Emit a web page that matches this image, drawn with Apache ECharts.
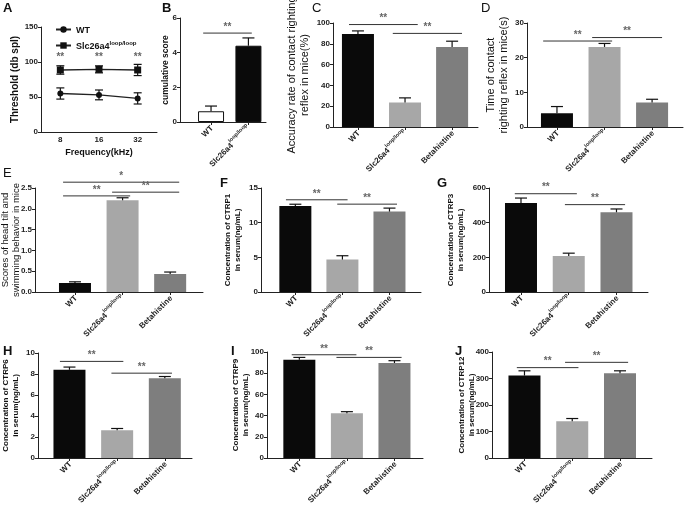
<!DOCTYPE html>
<html><head><meta charset="utf-8">
<script src="https://cdn.jsdelivr.net/npm/echarts@6/dist/echarts.min.js"></script>
<style>html,body{margin:0;padding:0;background:#fff}#c{width:685px;height:507px}</style>
</head><body><div id="c"></div>
<script>
// ---------- data ----------
const groups = ['WT', 'Slc26a4', 'Betahistine'];
const freqs = ['8', '16', '32'];
const A_wt = [55, 53, 48];
const A_wt_err = [8, 7, 8];
const A_slc = [88.6, 89.5, 88.6];
const A_slc_err = [6, 5, 8];
const A_sigY = [107, 107, 107];
const B_mean = [0.62, 4.4];
const B_err = [0.3, 0.45];
const C_mean = [89.5, 23.6, 77];
const C_err = [2.9, 4.4, 5.5];
const D_mean = [4.0, 23.1, 7.1];
const D_err = [1.9, 1.0, 0.9];
const E_mean = [0.215, 2.205, 0.43];
const E_err = [0.03, 0.06, 0.05];
const F_mean = [12.42, 4.68, 11.6];
const F_err = [0.24, 0.55, 0.5];
const G_mean = [514, 207, 460];
const G_err = [28, 17, 19];
const H_mean = [8.4, 2.65, 7.6];
const H_err = [0.26, 0.16, 0.16];
const I_mean = [92.7, 42.1, 89.6];
const I_err = [2.2, 1.6, 2.2];
const J_mean = [311, 139, 320];
const J_err = [18, 10, 9];
// significance brackets: [from, to, level], label
const B_sig = [[-0.21, 1.09, 5.13]]; const B_sigT = ['**'];
const C_sig = [[-0.19, 1.27, 98.5], [0.74, 2.21, 90]]; const C_sigT = ['**', '**'];
const D_sig = [[-0.29, 1.16, 24.8], [0.74, 2.21, 25.8]]; const D_sigT = ['**', '**'];
const E_sig = [[-0.25, 2.19, 2.64], [-0.25, 1.16, 2.31], [0.78, 2.19, 2.40]]; const E_sigT = ['*', '**', '**'];
const F_sig = [[-0.2, 1.11, 13.3], [0.89, 2.16, 12.67]]; const F_sigT = ['**', '**'];
const G_sig = [[-0.13, 1.17, 567], [0.92, 2.18, 504]]; const G_sigT = ['**', '**'];
const H_sig = [[-0.2, 1.13, 9.2], [0.88, 2.15, 8.08]]; const H_sigT = ['**', '**'];
const I_sig = [[-0.16, 1.2, 97.4], [0.78, 2.15, 94.9]]; const I_sigT = ['**', '**'];
const J_sig = [[-0.16, 1.13, 341], [0.85, 2.17, 361]]; const J_sigT = ['**', '**'];

// ---------- helpers ----------
const FF = 'Liberation Sans, Arial, sans-serif';
const BLACK = '#0a0a0a', LGREY = '#a7a7a7', DGREY = '#7e7e7e';
const chart = echarts.init(document.getElementById('c'));
const grids = [], xAxes = [], yAxes = [], series = [], titles = [];

function yAxisCfg(gi, max, interval, name, nameStyle, gap, fmt) {
  return {
    type: 'value', gridIndex: gi, min: 0, max: max, interval: interval,
    name: name, nameLocation: 'middle', nameRotate: 90, nameGap: gap, nameMoveOverlap: false,
    nameTextStyle: Object.assign({ fontFamily: FF, color: '#111', align: 'center' }, nameStyle),
    axisLine: { show: true, onZero: false, lineStyle: { color: '#222', width: 1 } },
    axisTick: { show: true, length: 3, lineStyle: { color: '#222' } },
    axisLabel: { fontFamily: FF, fontSize: 8, fontWeight: 'bold', color: '#222', margin: 3, formatter: fmt },
    splitLine: { show: false }
  };
}
function xBarAxis(gi, min, max, n) {
  const vals = []; for (let k = 0; k < n; k++) vals.push(k);
  return {
    type: 'value', gridIndex: gi, min: min, max: max,
    axisLine: { show: true, onZero: false, lineStyle: { color: '#222', width: 1 } },
    axisTick: { show: true, length: 3, customValues: vals, lineStyle: { color: '#222' } },
    axisLabel: {
      customValues: vals, rotate: 45, margin: 4, color: '#222',
      formatter: v => v === 1 ? '{b|Slc26a4}{s|loop/loop}' : '{b|' + groups[v] + '}',
      rich: {
        b: { fontFamily: FF, fontSize: 8, fontWeight: 'bold', color: '#222', lineHeight: 11, verticalAlign: 'bottom' },
        s: { fontFamily: FF, fontSize: 5.5, fontWeight: 'bold', color: '#222', lineHeight: 11, verticalAlign: 'top' }
      }
    },
    splitLine: { show: false }
  };
}
function errSeries(gi, xs, means, errs, both, cap) {
  return {
    type: 'custom', xAxisIndex: gi, yAxisIndex: gi, silent: true, z: 5,
    data: means.map((m, k) => [xs[k], m, errs[k]]),
    renderItem: (p, api) => {
      const x = api.value(0), m = api.value(1), e = api.value(2);
      const p0 = api.coord([x, both ? m - e : m]);
      const p1 = api.coord([x, m + e]);
      const ch = [
        { type: 'line', shape: { x1: p0[0], y1: p0[1], x2: p1[0], y2: p1[1] }, style: { stroke: '#111', lineWidth: 1.2 } },
        { type: 'line', shape: { x1: p1[0] - cap, y1: p1[1], x2: p1[0] + cap, y2: p1[1] }, style: { stroke: '#111', lineWidth: 1.2 } }
      ];
      if (both) ch.push({ type: 'line', shape: { x1: p0[0] - cap, y1: p0[1], x2: p0[0] + cap, y2: p0[1] }, style: { stroke: '#111', lineWidth: 1.2 } });
      return { type: 'group', children: ch };
    }
  };
}
function sigSeries(gi, list, texts) {
  return {
    type: 'custom', xAxisIndex: gi, yAxisIndex: gi, silent: true, z: 6, clip: false,
    data: list,
    renderItem: (p, api) => {
      const a = api.coord([api.value(0), api.value(2)]);
      const b = api.coord([api.value(1), api.value(2)]);
      return {
        type: 'group', children: [
          { type: 'line', shape: { x1: a[0], y1: a[1], x2: b[0], y2: b[1] }, style: { stroke: '#333', lineWidth: 1 } },
          { type: 'text', x: (a[0] + b[0]) / 2, y: a[1] - 1,
            style: { text: texts[p.dataIndex], textAlign: 'center', textVerticalAlign: 'bottom', fill: '#666', font: 'bold 10px ' + FF } }
        ]
      };
    }
  };
}
function barSeries(gi, means, colors, width, borders) {
  return {
    type: 'bar', xAxisIndex: gi, yAxisIndex: gi, barWidth: width, silent: true, z: 3,
    data: means.map((m, k) => ({
      value: [k, m],
      itemStyle: { color: colors[k], borderColor: borders ? borders[k] : colors[k], borderWidth: borders ? 1 : 0 }
    }))
  };
}
function addBarPanel(g, box, xr, ymax, yint, name, nameStyle, gap, means, errs, sig, sigT, fmt) {
  grids.push(Object.assign({ containLabel: false, outerBoundsMode: 'none' }, box));
  xAxes.push(xBarAxis(g, xr[0], xr[1], means.length));
  yAxes.push(yAxisCfg(g, ymax, yint, name, nameStyle, gap, fmt));
  series.push(barSeries(g, means, [BLACK, LGREY, DGREY], 32));
  series.push(errSeries(g, means.map((m, k) => k), means, errs, false, 6));
  series.push(sigSeries(g, sig, sigT));
}
function title(t, x, y, bold) {
  titles.push({ text: t, left: x, top: y, padding: 0,
    textStyle: { fontFamily: FF, fontSize: 13, fontWeight: bold ? 'bold' : 'normal', color: '#111' } });
}

// ---------- Panel A ----------
grids.push({ left: 41, top: 27, width: 116, height: 105, containLabel: false, outerBoundsMode: 'none' });
xAxes.push({
  type: 'category', gridIndex: 0, data: freqs, boundaryGap: true,
  name: 'Frequency(kHz)', nameLocation: 'middle', nameGap: 16, nameMoveOverlap: false,
  nameTextStyle: { fontFamily: FF, fontSize: 9, fontWeight: 'bold', color: '#111' },
  axisLine: { onZero: false, lineStyle: { color: '#222' } },
  axisTick: { alignWithLabel: true, length: 3, lineStyle: { color: '#222' } },
  axisLabel: { fontFamily: FF, fontSize: 8, fontWeight: 'bold', color: '#222', margin: 4 }
});
yAxes.push(yAxisCfg(0, 150, 50, 'Threshold (db spl)', { fontSize: 10, fontWeight: 'bold' }, 21));
series.push({
  name: 'WT', type: 'line', xAxisIndex: 0, yAxisIndex: 0, data: A_wt, symbol: 'circle', symbolSize: 6,
  lineStyle: { color: '#222', width: 1.3 }, itemStyle: { color: '#111' }, z: 4
});
series.push({
  name: 'Slc26a4', type: 'line', xAxisIndex: 0, yAxisIndex: 0, data: A_slc, symbol: 'rect', symbolSize: 7,
  lineStyle: { color: '#222', width: 1.3 }, itemStyle: { color: '#111' }, z: 4
});
series.push(errSeries(0, [0, 1, 2], A_wt, A_wt_err, true, 4));
series.push(errSeries(0, [0, 1, 2], A_slc, A_slc_err, true, 4));
series.push({
  type: 'custom', xAxisIndex: 0, yAxisIndex: 0, silent: true, data: A_sigY.map((v, k) => [k, v]),
  renderItem: (p, api) => {
    const c = api.coord([api.value(0), api.value(1)]);
    return { type: 'text', x: c[0], y: c[1], style: { text: '**', textAlign: 'center', textVerticalAlign: 'middle', fill: '#666', font: 'bold 10px ' + FF } };
  }
});

// ---------- Panel B ----------
grids.push({ left: 180, top: 18, width: 86, height: 104, containLabel: false, outerBoundsMode: 'none' });
xAxes.push(xBarAxis(1, -0.83, 1.47, 2));
yAxes.push(yAxisCfg(1, 6, 2, 'cumulative score', { fontSize: 8.5, fontWeight: 'bold' }, 10));
series.push(barSeries(1, B_mean, ['#ffffff', BLACK], 26, ['#111', '#111']));
series.push(errSeries(1, [0, 1], B_mean, B_err, false, 6));
series.push(sigSeries(1, B_sig, B_sigT));

// ---------- Panels C - J ----------
const reg = { fontSize: 11, fontWeight: 'normal', lineHeight: 13 };
const regE = { fontSize: 9.5, fontWeight: 'normal', lineHeight: 11 };
const bld = { fontSize: 8, fontWeight: 'bold', lineHeight: 10 };
addBarPanel(2, { left: 333, top: 23, width: 145, height: 104 }, [-0.53, 2.55], 100, 20,
  'Accuracy rate of contact righting\nreflex in mice(%)', reg, 22, C_mean, C_err, C_sig, C_sigT);
addBarPanel(3, { left: 527, top: 23, width: 156, height: 104 }, [-0.63, 2.65], 30, 10,
  'Time of contact\nrighting reflex in mice(s)', reg, 17, D_mean, D_err, D_sig, D_sigT);
addBarPanel(4, { left: 35, top: 188, width: 168, height: 104 }, [-0.84, 2.69], 2.5, 0.5,
  'Scores of head tilt and\nswimming behavior in mice', regE, 13, E_mean, E_err, E_sig, E_sigT, v => v.toFixed(1));
addBarPanel(5, { left: 261, top: 188, width: 160, height: 104 }, [-0.73, 2.67], 15, 5,
  'Concentration of CTRP1\nin serum(ng/mL)', bld, 18, F_mean, F_err, F_sig, F_sigT);
addBarPanel(6, { left: 489, top: 188, width: 159, height: 104 }, [-0.67, 2.66], 600, 200,
  'Concentration of CTRP3\nin serum(ng/mL)', bld, 23, G_mean, G_err, G_sig, G_sigT);
addBarPanel(7, { left: 38, top: 353, width: 154, height: 105 }, [-0.66, 2.57], 10, 2,
  'Concentration of CTRP6\nin serum(ng/mL)', bld, 17, H_mean, H_err, H_sig, H_sigT);
addBarPanel(8, { left: 267, top: 352, width: 156, height: 106 }, [-0.68, 2.6], 100, 20,
  'Concentration of CTRP9\nin serum(ng/mL)', bld, 16, I_mean, I_err, I_sig, I_sigT);
addBarPanel(9, { left: 492, top: 352, width: 160, height: 106 }, [-0.68, 2.67], 400, 100,
  'Concentration of CTRP12\nin serum(ng/mL)', bld, 15, J_mean, J_err, J_sig, J_sigT);

// ---------- panel letters ----------
title('A', 3, 2, true); title('B', 162, 2, true); title('C', 312, 2, false); title('D', 481, 2, false);
title('E', 3, 167, false); title('F', 220, 177, true); title('G', 437, 177, true);
title('H', 3, 345, true); title('I', 231, 345, true); title('J', 455, 345, true);

chart.setOption({
  animation: false,
  backgroundColor: '#fff',
  title: titles,
  legend: {
    orient: 'vertical', left: 50, top: 21, itemGap: 5, itemWidth: 15, itemHeight: 8,
    data: ['WT', 'Slc26a4'],
    formatter: n => n === 'Slc26a4' ? '{b|Slc26a4}{s|loop/loop}' : '{b|WT}',
    textStyle: {
      rich: {
        b: { fontFamily: FF, fontSize: 9, fontWeight: 'bold', color: '#111', lineHeight: 11, verticalAlign: 'bottom' },
        s: { fontFamily: FF, fontSize: 6, fontWeight: 'bold', color: '#111', lineHeight: 11, verticalAlign: 'top' }
      }
    }
  },
  grid: grids, xAxis: xAxes, yAxis: yAxes, series: series
});
</script></body></html>
